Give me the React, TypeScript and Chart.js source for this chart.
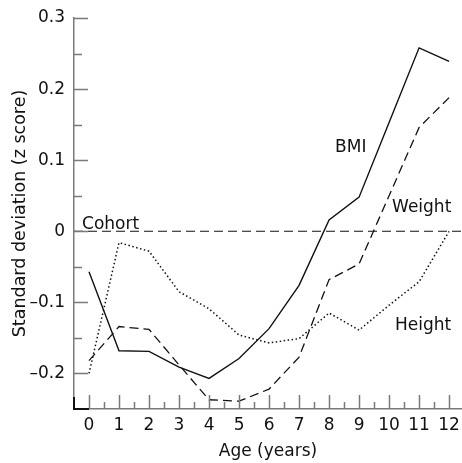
import React, { useEffect, useRef } from "react";
import { Chart, registerables } from "chart.js";

Chart.register(...registerables);

// ---- data ----
const ages = [0, 1, 2, 3, 4, 5, 6, 7, 8, 9, 10, 11, 12];
const bmi = [-0.057, -0.168, -0.169, -0.191, -0.207, -0.179, -0.137, -0.076, 0.016, 0.048, 0.153, 0.258, 0.239];
const weight = [-0.182, -0.134, -0.138, -0.188, -0.237, -0.239, -0.222, -0.177, -0.068, -0.046, 0.05, 0.146, 0.188];
const height = [-0.2, -0.016, -0.028, -0.085, -0.109, -0.146, -0.157, -0.151, -0.115, -0.139, -0.104, -0.071, 0.0];
const cohort = 0;

const yTickValues = [-0.2, -0.1, 0, 0.1, 0.2, 0.3];
const yMinorValues = [-0.15, -0.05, 0.05, 0.15, 0.25];
const xMinorValues = [0.5, 1.5, 2.5, 3.5, 4.5, 5.5, 6.5, 7.5, 8.5, 9.5, 10.5, 11.5];

const seriesNames = ["BMI", "Weight", "Height", "Cohort"];
// label anchors in data space (age, z score)
const labelAnchors = [
  { text: "BMI", x: 8.2, y: 0.111 },
  { text: "Weight", x: 10.1, y: 0.027 },
  { text: "Height", x: 10.2, y: -0.139 },
  { text: "Cohort", x: -0.233, y: 0.003 },
];

const FONT = "'DejaVu Sans', sans-serif";
const TEXT = "#111";
const AXIS = "#7a7a7a";

const fmtY = (v: number) => {
  if (Math.abs(v) < 1e-9) return "0";
  return (v < 0 ? "\u2013" : "") + Math.abs(v).toFixed(1);
};

const decorPlugin = {
  id: "decor",
  afterDatasetsDraw(chart: any) {
    const { ctx, chartArea, scales } = chart;
    const xs = scales.x;
    const ys = scales.y;
    ctx.save();
    // cohort reference line
    ctx.beginPath();
    ctx.setLineDash([9, 5]);
    ctx.lineWidth = 1.1;
    ctx.strokeStyle = "#111";
    const y0 = ys.getPixelForValue(cohort);
    ctx.moveTo(chartArea.left, y0);
    ctx.lineTo(chartArea.right, y0);
    ctx.stroke();
    ctx.setLineDash([]);

    // ticks (inward)
    ctx.strokeStyle = AXIS;
    ctx.lineWidth = 1.5;
    ctx.beginPath();
    yTickValues.forEach((v) => {
      const p = Math.round(ys.getPixelForValue(v)) + 0.5;
      ctx.moveTo(chartArea.left, p);
      ctx.lineTo(chartArea.left + 14, p);
    });
    yMinorValues.forEach((v) => {
      const p = Math.round(ys.getPixelForValue(v)) + 0.5;
      ctx.moveTo(chartArea.left, p);
      ctx.lineTo(chartArea.left + 8, p);
    });
    ages.forEach((v) => {
      const p = Math.round(xs.getPixelForValue(v)) + 0.5;
      ctx.moveTo(p, chartArea.bottom);
      ctx.lineTo(p, chartArea.bottom - 14);
    });
    xMinorValues.forEach((v) => {
      const p = Math.round(xs.getPixelForValue(v)) + 0.5;
      ctx.moveTo(p, chartArea.bottom);
      ctx.lineTo(p, chartArea.bottom - 7);
    });
    ctx.stroke();

    // dark corner
    ctx.strokeStyle = "#111";
    ctx.lineWidth = 2;
    ctx.beginPath();
    ctx.moveTo(chartArea.left, ys.getPixelForValue(-0.233));
    ctx.lineTo(chartArea.left, chartArea.bottom);
    ctx.lineTo(xs.getPixelForValue(0), chartArea.bottom);
    ctx.stroke();

    // series labels
    ctx.fillStyle = TEXT;
    ctx.font = `17px ${FONT}`;
    ctx.textAlign = "left";
    ctx.textBaseline = "alphabetic";
    labelAnchors.forEach((a) => {
      ctx.fillText(a.text, xs.getPixelForValue(a.x), ys.getPixelForValue(a.y));
    });
    ctx.restore();
  },
};

export default function App() {
  const ref = useRef<HTMLCanvasElement | null>(null);
  useEffect(() => {
    if (!ref.current) return;
    const chart = new Chart(ref.current, {
      type: "line",
      data: {
        datasets: [
          {
            label: seriesNames[0],
            data: ages.map((a, i) => ({ x: a, y: bmi[i] })),
            borderColor: "#111",
            borderWidth: 1.4,
            pointRadius: 0,
            tension: 0,
          },
          {
            label: seriesNames[1],
            data: ages.map((a, i) => ({ x: a, y: weight[i] })),
            borderColor: "#111",
            borderWidth: 1.3,
            borderDash: [9, 5],
            pointRadius: 0,
            tension: 0,
          },
          {
            label: seriesNames[2],
            data: ages.map((a, i) => ({ x: a, y: height[i] })),
            borderColor: "#111",
            borderWidth: 1.5,
            borderDash: [1.5, 2.5],
            pointRadius: 0,
            tension: 0,
          },
        ],
      },
      options: {
        animation: false,
        responsive: false,
        devicePixelRatio: 1,
        layout: { padding: { top: 18, right: 0, bottom: 0, left: 0 } },
        plugins: { legend: { display: false }, tooltip: { enabled: false } },
        scales: {
          x: {
            type: "linear",
            min: -0.5,
            max: 12.43,
            afterBuildTicks: (s: any) => {
              s.ticks = ages.map((v) => ({ value: v }));
            },
            afterFit: (s: any) => {
              s.height = 54;
              s.paddingLeft = 0;
              s.paddingRight = 0;
            },
            grid: { display: false, drawTicks: false },
            border: { display: true, color: AXIS, width: 1.5 },
            ticks: {
              autoSkip: false,
              maxRotation: 0,
              padding: 6,
              color: TEXT,
              font: { family: FONT, size: 17 },
              callback: (v: any) => String(v),
            },
            title: {
              display: true,
              text: "Age (years)",
              color: TEXT,
              font: { family: FONT, size: 17 },
              padding: { top: 0, bottom: 1 },
            },
          },
          y: {
            type: "linear",
            min: -0.25,
            max: 0.3,
            afterBuildTicks: (s: any) => {
              s.ticks = yTickValues.map((v) => ({ value: v }));
            },
            afterFit: (s: any) => {
              s.width = 74;
              s.paddingTop = 0;
              s.paddingBottom = 0;
            },
            grid: { display: false, drawTicks: false },
            border: { display: true, color: AXIS, width: 1.5 },
            ticks: {
              padding: 9,
              color: TEXT,
              font: { family: FONT, size: 17 },
              callback: (v: any) => fmtY(Number(v)),
            },
            title: {
              display: true,
              text: "Standard deviation (z score)",
              color: TEXT,
              font: { family: FONT, size: 17.5 },
              padding: { top: 10, bottom: 0 },
            },
          },
        },
      },
      plugins: [decorPlugin],
    } as any);
    return () => chart.destroy();
  }, []);

  return (
    <div style={{ position: "absolute", left: 0, top: 0, width: 462, height: 463, background: "#fff" }}>
      <canvas ref={ref} width={462} height={463} style={{ display: "block" }} />
    </div>
  );
}
